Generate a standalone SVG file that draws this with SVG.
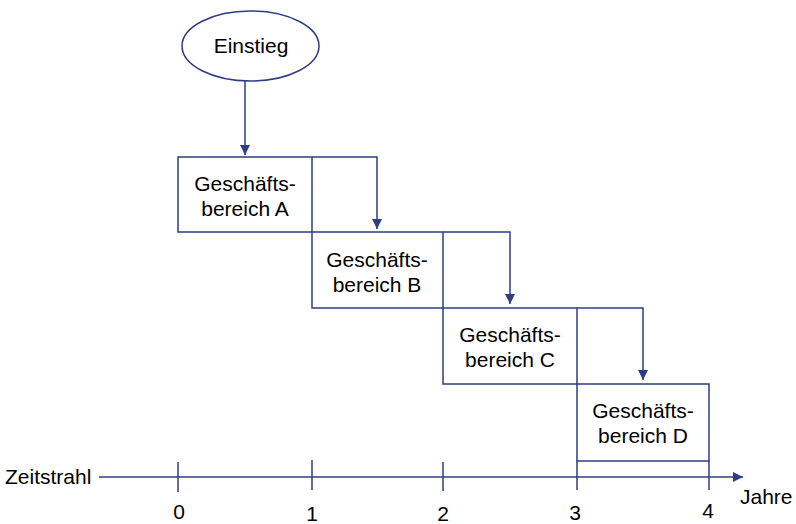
<svg xmlns="http://www.w3.org/2000/svg" width="796" height="524" viewBox="0 0 796 524">
<style>
.ln{fill:none;stroke:#2F3C86;stroke-width:1.5}
.bx{fill:#FFFFFF;stroke:#2F3C86;stroke-width:1.5}
text{font-family:"Liberation Sans",Arial,sans-serif;font-size:21px;fill:#000}
.c{text-anchor:middle}
</style>
<defs>
<marker id="ah" viewBox="0 0 10 10" refX="10" refY="5" markerWidth="10" markerHeight="10" markerUnits="userSpaceOnUse" orient="auto">
<path d="M0,0 L10,5 L0,10 z" fill="#2F3C86"/>
</marker>
</defs>
<rect width="796" height="524" fill="#FFFFFF"/>
<g id="einstieg">
<ellipse class="bx" cx="250.5" cy="46" rx="68.5" ry="35"/>
<text class="c" x="251" y="53">Einstieg</text>
</g>
<g id="bereichA">
<rect class="bx" x="178" y="157" width="134" height="75"/>
<text class="c" x="245" y="191">Geschäfts-</text>
<text class="c" x="245" y="216">bereich A</text>
</g>
<g id="bereichB">
<rect class="bx" x="312" y="232" width="131" height="76"/>
<text class="c" x="377" y="267">Geschäfts-</text>
<text class="c" x="377" y="292">bereich B</text>
</g>
<g id="bereichC">
<rect class="bx" x="443" y="308" width="134" height="76"/>
<text class="c" x="510" y="342">Geschäfts-</text>
<text class="c" x="510" y="367">bereich C</text>
</g>
<g id="bereichD">
<rect class="bx" x="577" y="384" width="132" height="77"/>
<text class="c" x="643" y="418">Geschäfts-</text>
<text class="c" x="643" y="443">bereich D</text>
</g>
<g id="connectors">
<path class="ln" d="M245,81 V155" marker-end="url(#ah)"/>
<path class="ln" d="M312,157 H377 V229" marker-end="url(#ah)"/>
<path class="ln" d="M443,232 H510 V304" marker-end="url(#ah)"/>
<path class="ln" d="M577,308 H643 V380" marker-end="url(#ah)"/>
</g>
<g id="zeitstrahl">
<path class="ln" d="M99,477 H743" marker-end="url(#ah)"/>
<path class="ln" d="M178,462 V492 M312,460 V490 M443,462 V491 M577,461 V490 M709,461 V490"/>
<text x="5" y="484">Zeitstrahl</text>
<text x="740" y="504">Jahre</text>
<text class="c" x="179" y="519">0</text>
<text class="c" x="312" y="521">1</text>
<text class="c" x="443" y="521">2</text>
<text class="c" x="575" y="520">3</text>
<text class="c" x="708" y="518">4</text>
</g>
</svg>
